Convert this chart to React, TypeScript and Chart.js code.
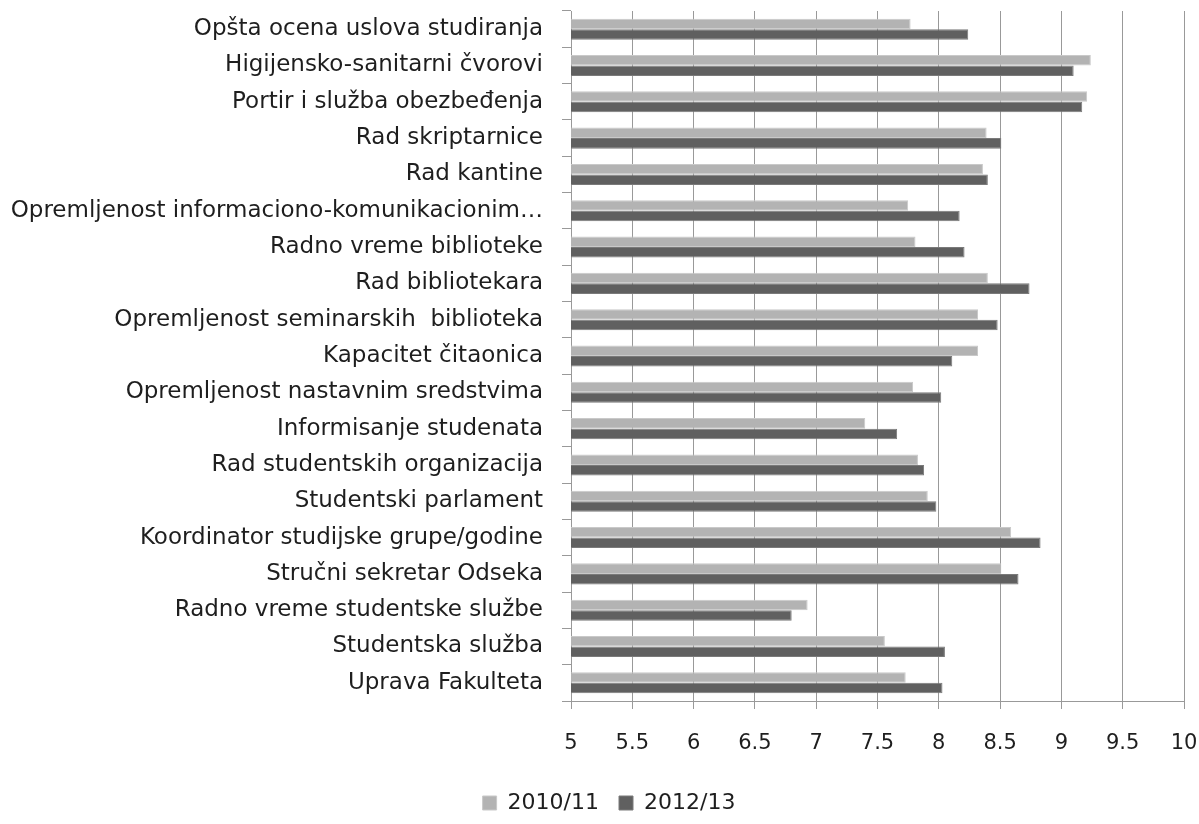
import { useEffect, useRef } from 'react';
import { Chart, registerables } from 'chart.js';

Chart.register(...registerables);

const categories = [
  'Opšta ocena uslova studiranja',
  'Higijensko-sanitarni čvorovi',
  'Portir i služba obezbeđenja',
  'Rad skriptarnice',
  'Rad kantine',
  'Opremljenost informaciono-komunikacionim…',
  'Radno vreme biblioteke',
  'Rad bibliotekara',
  'Opremljenost seminarskih  biblioteka',
  'Kapacitet čitaonica',
  'Opremljenost nastavnim sredstvima',
  'Informisanje studenata',
  'Rad studentskih organizacija',
  'Studentski parlament',
  'Koordinator studijske grupe/godine',
  'Stručni sekretar Odseka',
  'Radno vreme studentske službe',
  'Studentska služba',
  'Uprava Fakulteta',
];

const series2010 = [7.77, 9.24, 9.21, 8.39, 8.36, 7.75, 7.81, 8.40, 8.32, 8.32, 7.79, 7.40, 7.83, 7.91, 8.59, 8.51, 6.93, 7.56, 7.73];
const series2012 = [8.24, 9.10, 9.17, 8.51, 8.40, 8.17, 8.21, 8.74, 8.48, 8.11, 8.02, 7.66, 7.88, 7.98, 8.83, 8.65, 6.80, 8.05, 8.03];

const seriesNames = ['2010/11', '2012/13'];
const xMin = 5;
const xMax = 10;
const xStep = 0.5;

const FONT = "'DejaVu Sans', sans-serif";
const TEXT = '#1e1e1e';
const GRID = '#999999';

export default function App() {
  const ref = useRef<HTMLCanvasElement | null>(null);

  useEffect(() => {
    if (!ref.current) return;
    const shiftLegend = {
      id: 'shiftLegend',
      afterLayout(chart: any) {
        const l = chart.legend;
        if (l) {
          l.left += 17;
          l.right += 17;
        }
      },
    };
    const chart = new Chart(ref.current, {
      type: 'bar',
      data: {
        labels: categories,
        datasets: [
          {
            label: seriesNames[0],
            data: series2010,
            backgroundColor: '#b3b3b3',
            borderColor: '#c9c9c9',
            borderWidth: 1,
            categoryPercentage: 0.58,
            barPercentage: 1.0,
          },
          {
            label: seriesNames[1],
            data: series2012,
            backgroundColor: '#606060',
            borderColor: '#7a7a7a',
            borderWidth: 1,
            categoryPercentage: 0.58,
            barPercentage: 1.0,
          },
        ],
      },
      options: {
        indexAxis: 'y',
        responsive: true,
        maintainAspectRatio: false,
        animation: false,
        layout: { padding: { top: 11, right: 15, left: 0, bottom: 0 } },
        scales: {
          x: {
            type: 'linear',
            min: xMin,
            max: xMax,
            ticks: {
              stepSize: xStep,
              font: { family: FONT, size: 21 },
              color: TEXT,
              padding: 22,
              callback: (v: any) => String(v),
            },
            grid: { color: GRID, tickColor: GRID, tickLength: 8, lineWidth: 1 },
            border: { color: GRID },
            afterFit: (s: any) => {
              s.height = 71;
              s.paddingLeft = 0;
              s.paddingRight = 0;
            },
          },
          y: {
            ticks: {
              font: { family: FONT, size: 23 },
              color: TEXT,
              padding: 19,
              autoSkip: false,
            },
            grid: { drawOnChartArea: false, color: GRID, tickColor: GRID, tickLength: 9 },
            border: { color: GRID },
            afterFit: (s: any) => {
              s.width = 571;
              s.paddingTop = 0;
              s.paddingBottom = 0;
            },
          },
        },
        plugins: {
          legend: {
            position: 'bottom',
            labels: {
              boxWidth: 14,
              boxHeight: 14,
              padding: 20,
              color: TEXT,
              font: { family: FONT, size: 22 },
            },
          },
          tooltip: { enabled: false },
        },
      },
      plugins: [shiftLegend],
    });
    return () => chart.destroy();
  }, []);

  return (
    <div style={{ position: 'absolute', left: 0, top: 0, width: 1199, height: 824, background: '#fff' }}>
      <canvas ref={ref} />
    </div>
  );
}
